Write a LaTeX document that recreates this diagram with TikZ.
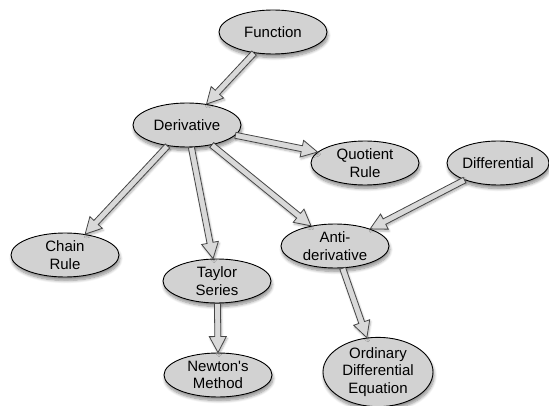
\documentclass[tikz,border=0pt]{standalone}
\usepackage{fontspec}
\setmainfont{Liberation Sans}
\usetikzlibrary{shapes.geometric,calc,shadows.blur}
\tikzset{
  concept/.style={ellipse, draw=black, line width=0.9pt, fill=gray!35,
    minimum width=108pt, minimum height=44pt, inner sep=0pt, align=center,
    font=\fontsize{15pt}{17.5pt}\selectfont,
    blur shadow={shadow opacity=45, shadow xshift=1pt, shadow yshift=-3.5pt, shadow blur radius=3pt, shadow blur steps=8}},
  fatarrow/.style={draw=gray!55!black, line width=0.8pt, fill=gray!30, line join=miter,
    blur shadow={shadow opacity=30, shadow xshift=1pt, shadow yshift=-2pt, shadow blur radius=2pt, shadow blur steps=6}}
}
\newcommand\fatarrow[2]{%
  \path let \p1=(#1), \p2=(#2), \n1={atan2(\y2-\y1,\x2-\x1)}, \n2={\n1+180},
    \p3=(#1.\n1), \p4=(#2.\n2) in
    [fatarrow] ($(\p3)+(\n1+90:3)$) -- ($(\p4)+(\n1:-16)+(\n1+90:3)$)
    -- ($(\p4)+(\n1:-16)+(\n1+90:8.5)$) -- (\p4)
    -- ($(\p4)+(\n1:-16)+(\n1-90:8.5)$) -- ($(\p4)+(\n1:-16)+(\n1-90:3)$)
    -- ($(\p3)+(\n1-90:3)$) -- cycle;}
\begin{document}
\begin{tikzpicture}[x=1pt,y=1pt]
\useasboundingbox (0,0) rectangle (549,-406);
\node[concept] (fun) at (273,-32) {Function};
\node[concept] (der) at (187,-125) {Derivative};
\node[concept] (quo) at (365,-163) {Quotient\\Rule};
\node[concept, minimum width=102pt] (dif) at (498,-163) {Differential};
\node[concept] (anti) at (335,-246) {Anti-\\derivative};
\node[concept] (chain) at (65,-255) {Chain\\Rule};
\node[concept] (tay) at (217,-281) {Taylor\\Series};
\node[concept] (new) at (218,-375) {Newton\textquotesingle s\\Method};
\node[concept, minimum width=110pt, minimum height=66pt] (ode) at (378,-372) {Ordinary\\Differential\\Equation};
\fatarrow{fun}{der}
\fatarrow{der}{quo}
\fatarrow{der}{chain}
\fatarrow{der}{tay}
\fatarrow{der}{anti}
\fatarrow{dif}{anti}
\fatarrow{tay}{new}
\fatarrow{anti}{ode}
\end{tikzpicture}
\end{document}
